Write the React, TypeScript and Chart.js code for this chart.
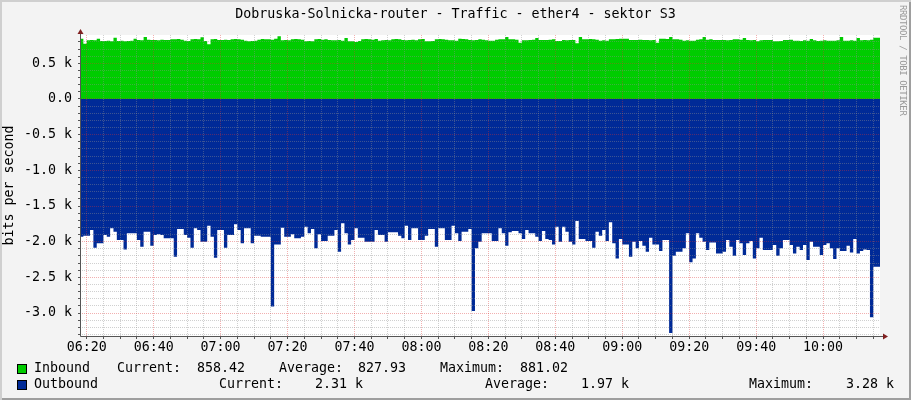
import { useEffect, useRef } from "react";
import { Chart, registerables } from "chart.js";

Chart.register(...registerables);

// one sample per minute, first sample at 06:18
const startMinute = 378;

const inbound = [
  846, 846, 775, 822, 827, 822, 846, 813, 813, 818,
  808, 860, 813, 818, 808, 813, 818, 846, 827, 822,
  869, 832, 827, 827, 822, 832, 827, 827, 836, 836,
  841, 832, 818, 813, 836, 841, 836, 864, 813, 766,
  836, 841, 827, 827, 832, 827, 836, 841, 836, 832,
  818, 808, 813, 818, 832, 841, 836, 836, 832, 846,
  881, 822, 827, 822, 836, 841, 836, 832, 808, 813,
  808, 836, 841, 832, 836, 827, 822, 822, 827, 818,
  855, 808, 808, 799, 813, 836, 841, 836, 832, 841,
  818, 822, 827, 822, 836, 841, 836, 827, 822, 827,
  832, 822, 836, 841, 808, 808, 813, 836, 841, 836,
  832, 822, 822, 818, 846, 841, 836, 827, 822, 827,
  836, 832, 822, 818, 818, 832, 836, 836, 869, 836,
  836, 832, 790, 822, 822, 827, 832, 855, 827, 827,
  827, 832, 836, 813, 813, 827, 822, 827, 827, 780,
  869, 836, 836, 841, 836, 832, 818, 822, 818, 836,
  836, 841, 846, 846, 846, 827, 827, 827, 832, 827,
  827, 822, 827, 790, 846, 846, 841, 869, 836, 836,
  832, 818, 822, 818, 818, 832, 836, 869, 832, 836,
  827, 827, 827, 827, 822, 827, 836, 836, 832, 855,
  827, 822, 827, 808, 822, 827, 827, 827, 808, 808,
  813, 827, 827, 832, 818, 818, 813, 822, 818, 841,
  822, 813, 818, 822, 818, 818, 818, 822, 869, 818,
  818, 822, 818, 855, 822, 827, 822, 832, 858,
];

const outbound = [
  -1907, -1930, -1916, -1916, -1836, -2084, -2023, -2023, -1907, -1930,
  -1813, -1860, -1977, -1977, -2108, -1883, -1883, -1883, -1977, -2070,
  -1860, -1860, -2056, -1907, -1897, -1907, -1953, -1953, -1953, -2210,
  -1823, -1823, -1907, -1944, -2084, -1813, -1836, -2000, -2000, -1776,
  -1930, -2225, -1836, -1836, -2084, -1907, -1907, -1757, -1836, -2023,
  -1813, -1813, -2023, -1916, -1916, -1930, -1930, -1930, -2910, -2038,
  -2038, -1804, -1930, -1930, -1897, -1953, -1953, -1930, -1790, -1883,
  -1823, -2093, -1897, -1991, -1991, -1916, -1916, -1836, -2140, -1743,
  -1883, -2038, -1977, -1813, -1944, -1944, -2000, -2000, -2000, -1836,
  -1907, -1907, -2000, -1869, -1869, -1869, -1916, -1953, -1776, -1977,
  -1813, -1813, -1977, -1977, -1916, -1823, -1823, -2070, -1813, -1813,
  -1977, -1977, -1776, -1883, -1991, -1860, -1860, -1823, -2970, -2093,
  -2000, -1883, -1883, -1883, -1991, -1991, -1813, -1883, -2056, -1869,
  -1851, -1851, -1883, -1963, -1836, -1883, -1883, -1930, -1991, -1851,
  -1963, -1977, -2038, -1790, -2000, -1790, -1860, -2000, -2038, -1710,
  -1963, -1963, -1991, -1991, -2084, -1860, -1916, -1836, -1991, -1729,
  -2023, -2234, -1963, -2038, -2038, -2210, -2000, -2093, -1991, -2056,
  -2140, -1944, -2038, -2038, -2131, -1977, -1977, -3280, -2197, -2140,
  -2140, -2093, -1883, -2290, -2234, -1883, -1944, -2000, -2117, -2010,
  -2010, -2164, -2164, -2140, -1977, -2070, -2197, -1977, -2023, -2187,
  -2023, -1991, -2234, -2093, -1944, -2117, -2117, -2117, -2047, -2197,
  -2093, -1977, -1977, -2047, -2164, -2070, -2117, -2047, -2257, -2000,
  -2070, -2070, -2187, -2047, -2023, -2093, -2243, -2093, -2131, -2131,
  -2056, -2150, -1963, -2164, -2131, -2108, -2117, -3060, -2351,
];

const timeTickMinutes = [380, 400, 420, 440, 460, 480, 500, 520, 540, 560, 580, 600];
const timeTickLabels = ["06:20", "06:40", "07:00", "07:20", "07:40", "08:00", "08:20", "08:40", "09:00", "09:20", "09:40", "10:00"];

const valueTicks = [500, 0, -500, -1000, -1500, -2000, -2500, -3000];
const valueTickLabels = ["0.5 k", "0.0", "-0.5 k", "-1.0 k", "-1.5 k", "-2.0 k", "-2.5 k", "-3.0 k"];

const inboundStats = ["858.42", "827.93", "881.02"];
const outboundStats = ["2.31 k", "1.97 k", "3.28 k"];

const title = "Dobruska-Solnicka-router - Traffic - ether4 - sektor S3";

const mono = '"DejaVu Sans Mono", monospace';
const GRID = "rgba(143, 143, 143, 0.42)";
const MGRID = "rgba(222, 48, 48, 0.38)";
const AXIS = "#555555";
const ARROW = "#7F1F1F";

const toPoints = (values: number[]) => {
  const pts = values.map((v, i) => ({ x: startMinute + i, y: v }));
  // close the last step at the right edge
  pts.push({ x: startMinute + values.length, y: values[values.length - 1] });
  return pts;
};

const rrdPlugin = {
  id: "rrdFrame",
  beforeDraw(chart: Chart) {
    const { ctx, chartArea: a } = chart;
    ctx.save();
    ctx.fillStyle = "#ffffff";
    ctx.fillRect(a.left, a.top, a.right - a.left, a.bottom - a.top);
    ctx.restore();
  },
  afterDraw(chart: Chart) {
    const { ctx, chartArea: a } = chart;
    const x0 = Math.round(a.left) + 0.5;
    const y0 = Math.round(a.bottom) + 0.5;
    ctx.save();
    ctx.strokeStyle = AXIS;
    ctx.lineWidth = 1;
    ctx.beginPath();
    ctx.moveTo(x0, y0);
    ctx.lineTo(x0, a.top - 2);
    ctx.moveTo(x0, y0);
    ctx.lineTo(a.right + 4, y0);
    ctx.stroke();
    ctx.fillStyle = ARROW;
    ctx.beginPath();
    ctx.moveTo(x0, a.top - 6);
    ctx.lineTo(x0 - 3, a.top - 1);
    ctx.lineTo(x0 + 3, a.top - 1);
    ctx.closePath();
    ctx.fill();
    ctx.beginPath();
    ctx.moveTo(a.right + 8, y0);
    ctx.lineTo(a.right + 3, y0 - 3);
    ctx.lineTo(a.right + 3, y0 + 3);
    ctx.closePath();
    ctx.fill();
    ctx.restore();
  },
};

const LegendText = ({ left, top, text }: { left: number; top: number; text: string }) => (
  <span style={{ position: "absolute", left, top, lineHeight: "16px", whiteSpace: "pre" }}>{text}</span>
);

const LegendBox = ({ top, color }: { top: number; color: string }) => (
  <span
    style={{
      position: "absolute",
      left: 17,
      top,
      width: 10,
      height: 10,
      boxSizing: "border-box",
      border: "1px solid #000",
      background: color,
    }}
  />
);

export default function App() {
  const canvasRef = useRef<HTMLCanvasElement>(null);

  useEffect(() => {
    document.body.style.margin = "0";
    if (!canvasRef.current) return;

    const chart = new Chart(canvasRef.current, {
      type: "line",
      data: {
        datasets: [
          {
            label: "Inbound",
            data: toPoints(inbound),
            stepped: "after",
            fill: "origin",
            backgroundColor: "#00CC00",
            borderColor: "transparent",
            borderWidth: 0,
            pointRadius: 0,
          },
          {
            label: "Outbound",
            data: toPoints(outbound),
            stepped: "after",
            fill: "origin",
            backgroundColor: "#002A97",
            borderColor: "transparent",
            borderWidth: 0,
            pointRadius: 0,
          },
        ],
      },
      options: {
        responsive: false,
        animation: false,
        events: [],
        layout: { padding: { top: 35, right: 31, bottom: 44, left: 0 } },
        plugins: {
          legend: { display: false },
          tooltip: { enabled: false },
          title: { display: false },
        },
        scales: {
          x: {
            type: "linear",
            min: startMinute,
            max: startMinute + inbound.length,
            afterFit: (scale) => {
              scale.height = 20;
            },
            border: { display: false, dash: [1, 1] },
            grid: {
              z: 1,
              color: (ctx) => (ctx.tick && Math.round(ctx.tick.value) % 20 === 0 ? MGRID : GRID),
              lineWidth: 1,
              drawTicks: true,
              tickLength: 3,
              tickColor: AXIS,
            },
            ticks: {
              stepSize: 5,
              includeBounds: false,
              autoSkip: false,
              maxRotation: 0,
              minRotation: 0,
              padding: 1,
              color: "#000",
              font: { family: mono, size: 13.3 },
              callback: (value) => {
                const idx = timeTickMinutes.indexOf(Math.round(Number(value)));
                return idx >= 0 ? timeTickLabels[idx] : "";
              },
            },
          },
          y: {
            type: "linear",
            min: -3322,
            max: 897,
            afterFit: (scale) => {
              scale.width = 80;
            },
            border: { display: false, dash: [1, 1] },
            grid: {
              z: 1,
              color: (ctx) => (ctx.tick && Math.round(ctx.tick.value) % 500 === 0 ? MGRID : GRID),
              lineWidth: 1,
              drawTicks: true,
              tickLength: 2,
              tickColor: AXIS,
            },
            title: {
              display: true,
              text: "bits per second",
              color: "#000",
              font: { family: mono, size: 13.3 },
              padding: { top: 2, bottom: 0 },
            },
            ticks: {
              stepSize: 100,
              includeBounds: false,
              autoSkip: false,
              padding: 6,
              color: "#000",
              font: { family: mono, size: 13.3 },
              callback: (value) => {
                const idx = valueTicks.indexOf(Math.round(Number(value)));
                return idx >= 0 ? valueTickLabels[idx] : "";
              },
            },
          },
        },
      },
      plugins: [rrdPlugin],
    });

    return () => chart.destroy();
  }, []);

  return (
    <div
      style={{
        position: "relative",
        width: 911,
        height: 400,
        overflow: "hidden",
        background: "#F3F3F3",
        boxShadow: "inset 2px 2px 0 #CFCFCF, inset -2px -2px 0 #9E9E9E",
        fontFamily: mono,
        fontSize: 13.3,
        color: "#000",
      }}
    >
      <canvas ref={canvasRef} width={911} height={400} style={{ position: "absolute", left: 0, top: 0 }} />
      <div style={{ position: "absolute", left: 0, top: 6, width: 911, textAlign: "center", lineHeight: "16px", whiteSpace: "pre" }}>
        {title}
      </div>
      <div
        style={{
          position: "absolute",
          left: 898,
          top: 5,
          writingMode: "vertical-rl",
          fontSize: 9,
          letterSpacing: "-0.4px",
          lineHeight: "10px",
          color: "#999999",
          whiteSpace: "pre",
        }}
      >
        RRDTOOL / TOBI OETIKER
      </div>

      <LegendBox top={364} color="#00CC00" />
      <LegendText left={34} top={360} text="Inbound" />
      <LegendText left={117} top={360} text="Current:" />
      <LegendText left={197} top={360} text={inboundStats[0]} />
      <LegendText left={279} top={360} text="Average:" />
      <LegendText left={358} top={360} text={inboundStats[1]} />
      <LegendText left={440} top={360} text="Maximum:" />
      <LegendText left={520} top={360} text={inboundStats[2]} />

      <LegendBox top={380} color="#002A97" />
      <LegendText left={34} top={376} text="Outbound" />
      <LegendText left={219} top={376} text="Current:" />
      <LegendText left={315} top={376} text={outboundStats[0]} />
      <LegendText left={485} top={376} text="Average:" />
      <LegendText left={581} top={376} text={outboundStats[1]} />
      <LegendText left={749} top={376} text="Maximum:" />
      <LegendText left={846} top={376} text={outboundStats[2]} />
    </div>
  );
}
